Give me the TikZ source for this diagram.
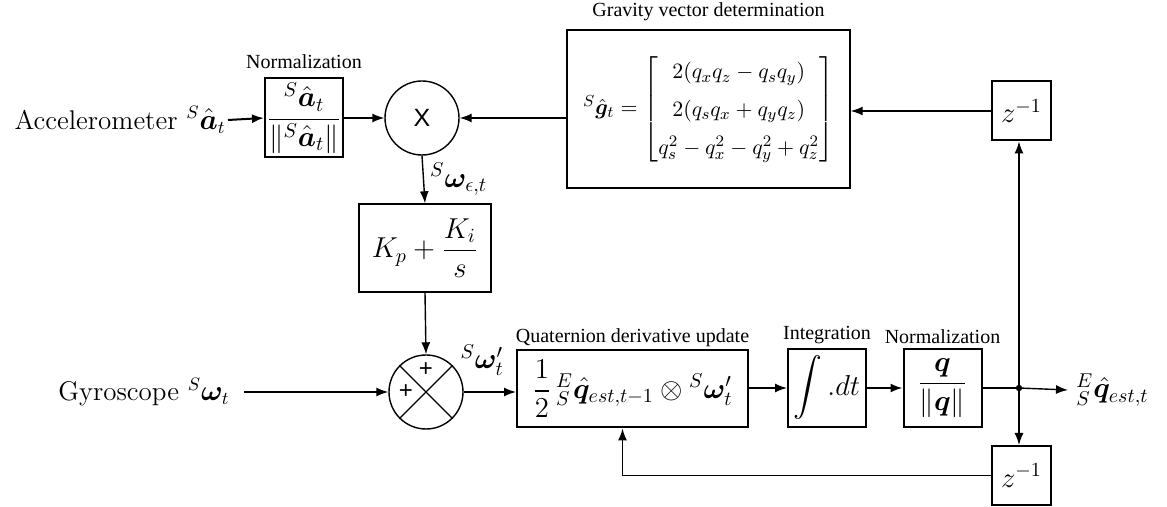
\documentclass[tikz,border=0pt]{standalone}
\usepackage{amsmath}
\usepackage{bm}
\usepackage{fontspec}
\newfontfamily\tnr{Liberation Serif}
\newfontfamily\arial{Liberation Sans}
\usetikzlibrary{positioning, arrows.meta}
\newcommand{\mfont}{\fontsize{14}{17}\selectfont}
\newcommand{\lfont}{\fontsize{13.5}{16}\selectfont}

\begin{document}
\begin{tikzpicture}[x=0.5pt, y=-0.5pt, >={Latex[length=6pt, width=4.5pt]},
    blk/.style={draw, line width=1pt, inner sep=0pt, font=\mfont},
    thinblk/.style={blk, line width=0.7pt},
    circ/.style={draw, circle, minimum size=37pt, inner sep=0pt, line width=0.7pt},
    blklabel/.style={font=\tnr\fontsize{10}{12}\selectfont, inner sep=1pt},
    sgn/.style={font=\arial\fontsize{12}{14}\selectfont, inner sep=0pt},
    wire/.style={line width=0.7pt}]
    \useasboundingbox (0,0) rectangle (1167,507);

    % Nhánh trên: gia tốc kế
    \node[anchor=east, inner sep=1pt, font=\lfont] (acc) at (228,120) {Accelerometer ${}^{S}\hat{\bm a}_t$};
    \node[blk, minimum width=39pt, minimum height=39.5pt,
        label={[blklabel, label distance=3pt]above:Normalization}] (norm1) at (304,118)
        {$\dfrac{{}^{S}\hat{\bm a}_t}{\|{}^{S}\hat{\bm a}_t\|}$};
    \node[circ] (mult) at (422,118) {\arial\fontsize{12.5}{14}\selectfont X};
    \node[thinblk, minimum width=141.5pt, minimum height=79pt, font=\fontsize{11}{13}\selectfont,
        label={[blklabel, label distance=3pt]above:Gravity vector determination}] (grav) at (708.5,109)
        {\renewcommand{\arraystretch}{1.45}$ {}^{S}\hat{\bm g}_t = \begin{bmatrix} 2(q_xq_z-q_sq_y)\\ 2(q_sq_x+q_yq_z)\\ q_s^2-q_x^2-q_y^2+q_z^2 \end{bmatrix}$};
    \node[blk, minimum size=29.5pt] (z1) at (1021.5,111) {$z^{-1}$};

    % Bộ điều khiển PI
    \node[thinblk, minimum width=66pt, minimum height=44pt] (pi) at (425,248) {$K_p+\dfrac{K_i}{s}$};

    % Nhánh dưới: con quay
    \node[anchor=east, inner sep=1pt, font=\lfont] (gyro) at (232,392) {Gyroscope ${}^{S}\bm\omega_t$};
    \node[circ] (sum) at (426,392) {};
    \node[sgn] (plus1) at ([yshift=11pt]sum.center) {+};
    \node[sgn] (plus2) at ([xshift=-10pt]sum.center) {+};
    \node[blk, minimum width=115.5pt, minimum height=38.5pt,
        label={[blklabel]above:Quaternion derivative update}] (quat) at (632.5,389)
        {$\dfrac{1}{2}\,{}^{E}_{S}\hat{\bm q}_{est,t-1}\otimes{}^{S}\bm\omega'_t$};
    \node[blk, minimum size=39pt, label={[blklabel, label distance=1pt]above:Integration}] (integ) at (827,388)
        {$\displaystyle\int .dt$};
    \node[blk, minimum size=39pt, label={[blklabel, label distance=1pt]above:Normalization}] (norm2) at (942.5,388)
        {$\dfrac{\bm q}{\|\bm q\|}$};
    \coordinate (jn) at (1019,388);
    \node[anchor=west, inner sep=0pt, font=\mfont] (out) at (1076,390) {${}^{E}_{S}\hat{\bm q}_{est,t}$};
    \node[blk, minimum size=29.5pt] (z2) at (1021.5,475.5) {$z^{-1}$};

    % Dấu chéo của bộ cộng
    \draw[wire] (sum.north east) -- (sum.south west) (sum.north west) -- (sum.south east);

    % Các mũi tên
    \draw[->, line width=1pt] (acc.east) -- (norm1.west);
    \draw[->, wire] (norm1.east) -- (mult.west);
    \draw[->, wire] (z1.west) -- (z1.west -| grav.east);
    \draw[->, wire] (grav.west |- mult.east) -- (mult.east);
    \draw[->, wire] (mult.south) -- node[right, inner sep=3pt, font=\mfont] (werr) {${}^{S}\bm\omega_{\epsilon,t}$} (pi.north);
    \draw[->, wire] (pi.south) -- (sum.north);
    \draw[->, wire] ([xshift=6pt]gyro.east) -- (sum.west);
    \draw[->, wire] (sum.east) -- (sum.east -| quat.west);
    \node[anchor=south west, inner sep=0pt, font=\mfont] (wcor) at (sum.25) {${}^{S}\bm\omega'_t$};
    \draw[->, wire] (quat.east |- integ.west) -- (integ.west);
    \draw[->, line width=1pt] (integ.east) -- (norm2.west);
    \draw[wire] (norm2.east) -- (jn);
    \draw[->, wire] (jn) -- ([xshift=-4pt]out.west);
    \fill (jn) circle[radius=1.6pt];
    \draw[->, wire] (jn) -- (jn |- z1.south);
    \draw[->, wire] (jn) -- (jn |- z2.north);
    \draw[->, wire] (z2.west) -| ([xshift=-5pt]quat.south);
\end{tikzpicture}
\end{document}
